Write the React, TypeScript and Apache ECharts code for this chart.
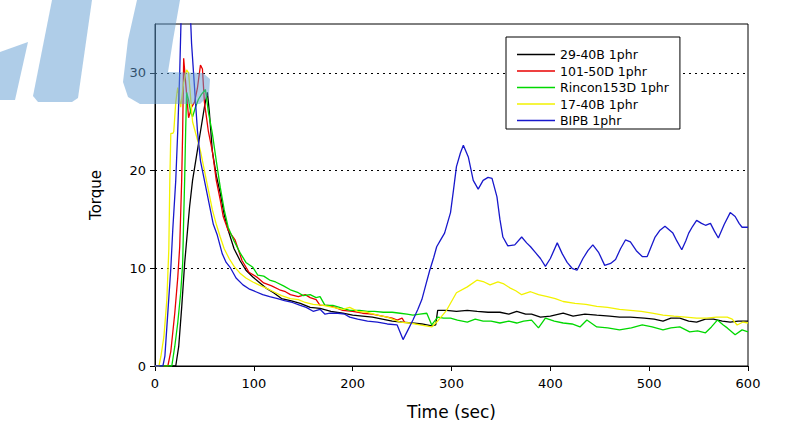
import React, { useEffect, useRef } from "react";
import * as echarts from "echarts";

// Legend / series names
const seriesNames = ["29-40B 1phr", "101-50D 1phr", "Rincon153D 1phr", "17-40B 1phr", "BIPB 1phr"];
const seriesColors = ["#000000", "#e80000", "#00d800", "#f2f200", "#1818cc"];

const yTickValues = [0, 10, 20, 30];

// [time (sec), torque]
const black2940B: [number, number][] = [
  [0, 0], [21, 0], [24, 2], [27, 6], [30, 10.5], [33, 14], [35, 16.3], [38, 19], [42, 21.5], [46, 24], [50, 26.5], [53, 28],
  [55, 26], [58, 22], [62, 19.5], [66, 17.7], [70, 15.5], [74, 13.9], [80, 12], [86, 10.8], [92, 9.8], [99, 9.1], [105, 8.6],
  [112, 8], [120, 7.5], [128, 6.9], [137, 6.7], [147, 6.4], [157, 6.0], [167, 5.9], [178, 5.6], [190, 5.4], [200, 5.2],
  [210, 5.1], [220, 5.0], [230, 4.8], [240, 4.6], [250, 4.5], [260, 4.4], [270, 4.3], [280, 4.1], [284, 4.2], [286, 5.7],
  [295, 5.7], [305, 5.6], [316, 5.7], [326, 5.6], [337, 5.5], [349, 5.5], [358, 5.3], [366, 5.6], [375, 5.3], [381, 5.3],
  [390, 5.0], [400, 5.1], [413, 5.4], [423, 5.1], [435, 5.3], [447, 5.2], [460, 5.1], [470, 5.0], [481, 5.0], [495, 4.9],
  [505, 4.8], [514, 4.6], [522, 4.9], [531, 4.9], [540, 4.6], [548, 4.5], [557, 4.8], [565, 4.8], [574, 4.6], [582, 4.5],
  [590, 4.6], [600, 4.6],
];

const red10150D: [number, number][] = [
  [0, 0], [13, 0], [16, 1.5], [20, 5.4], [23, 9], [25, 12.2], [27, 19], [28, 24], [29, 31.5], [31, 29], [34, 25.4],
  [37, 26.5], [40, 27], [43, 28.5], [46, 30.8], [48, 30.4], [50, 27], [54, 24], [58, 22], [62, 19], [66, 17], [69, 15.3],
  [74, 13.9], [81, 12.9], [88, 10.8], [95, 9.6], [103, 9.1], [110, 8.5], [118, 8.2], [126, 7.8], [132, 7.6], [137, 7.3],
  [145, 7.1], [152, 7.3], [157, 7.0], [163, 6.8], [167, 6.2], [175, 6.2], [182, 6.0], [190, 5.7], [200, 5.6], [210, 5.4],
  [220, 5.3], [230, 5.1], [240, 4.9], [245, 4.7], [250, 4.9], [253, 4.4],
];

const greenRincon153D: [number, number][] = [
  [0, 0], [17, 0], [20, 2], [23, 4.4], [26, 7.5], [28, 10.5], [29, 15], [30, 19], [31, 24], [32, 28], [34, 27.2], [36, 26],
  [38, 25.5], [41, 26.5], [44, 27.3], [47, 27.8], [51, 28.3], [54, 26], [58, 23.8], [62, 21], [66, 18.3], [70, 16], [74, 14.2],
  [80, 12.8], [86, 11.6], [92, 10.6], [99, 10.1], [104, 9.3], [110, 9.2], [116, 8.8], [122, 8.6], [130, 8.2], [137, 7.8],
  [145, 7.5], [150, 7.2], [157, 7.3], [163, 7.0], [167, 7.1], [172, 6.2], [180, 6.2], [190, 5.9], [197, 5.7], [207, 5.7],
  [215, 5.6], [222, 5.6], [231, 5.5], [240, 5.5], [248, 5.4], [255, 5.3], [261, 5.2], [268, 5.3], [275, 5.4], [280, 4.2],
  [286, 5.0], [292, 4.9], [299, 4.9], [306, 4.7], [316, 4.5], [324, 4.8], [332, 4.6], [340, 4.6], [349, 4.4], [358, 4.6],
  [366, 4.4], [373, 4.6], [381, 4.7], [388, 3.9], [395, 4.9], [404, 4.6], [413, 4.4], [422, 4.3], [430, 4.0], [437, 4.7],
  [447, 4.0], [458, 3.9], [470, 3.7], [482, 3.9], [493, 4.2], [503, 4.0], [514, 3.7], [522, 3.9], [531, 4.0], [541, 3.5],
  [549, 3.6], [557, 3.4], [563, 4.0], [569, 4.7], [575, 4.2], [579, 3.9], [587, 3.2], [594, 3.7], [600, 3.5],
];

const yellow1740B: [number, number][] = [
  [0, 0], [4, 0], [6, 1], [9, 3], [12, 6.8], [14, 12], [15, 19], [16, 23.8], [18, 23.8], [19, 24], [21, 27], [23, 28.5],
  [26, 26.5], [29, 29], [32, 30.3], [34, 30], [36, 27.5], [38, 25], [42, 23.5], [46, 22], [50, 20], [54, 18], [58, 16],
  [62, 14.5], [66, 13.2], [70, 12], [75, 11], [80, 10.2], [86, 9.5], [92, 9.0], [99, 8.6], [105, 8.3], [112, 8.0],
  [120, 7.6], [128, 7.2], [137, 6.9], [145, 6.8], [152, 6.5], [160, 6.3], [170, 6.2], [180, 6.0], [190, 5.8], [197, 6.0],
  [205, 5.6], [215, 5.5], [225, 5.2], [235, 5.0], [248, 4.5], [258, 4.4], [268, 4.2], [280, 4.0], [286, 4.6], [295, 5.7],
  [305, 7.5], [316, 8.1], [326, 8.8], [333, 8.6], [339, 8.3], [347, 8.6], [353, 8.4], [359, 8.0], [365, 7.7], [371, 7.3],
  [380, 7.6], [388, 7.3], [397, 7.1], [405, 6.9], [413, 6.6], [425, 6.4], [436, 6.3], [447, 6.1], [458, 6.0], [470, 5.8],
  [481, 5.7], [492, 5.6], [503, 5.4], [514, 5.2], [525, 5.1], [537, 5.0], [548, 4.9], [558, 4.9], [568, 5.0], [579, 5.0],
  [584, 4.8], [589, 4.2], [595, 4.5], [600, 4.4],
];

const blueBIPB: [number, number][] = [
  [0, 0], [8, 0], [10, 1], [12, 4], [14, 7], [16, 10], [18, 14], [21, 19], [23, 24], [25, 30], [27, 38], [35, 38], [37, 33],
  [39, 30], [41, 27], [43, 24], [46, 21], [50, 19], [55, 16.5], [59, 14.5], [63, 13.4], [68, 11.5], [72, 10.6], [76, 10.1],
  [82, 9.0], [89, 8.3], [95, 7.9], [102, 7.6], [109, 7.3], [116, 7.1], [124, 6.9], [131, 6.7], [139, 6.5], [147, 6.2],
  [153, 6.0], [160, 5.6], [167, 5.8], [172, 5.3], [177, 5.4], [185, 5.4], [192, 5.3], [197, 5.0], [205, 4.8], [215, 4.6],
  [225, 4.5], [235, 4.3], [245, 4.2], [251, 2.7], [256, 3.7], [261, 4.7], [266, 5.8], [270, 6.8], [274, 8.3], [278, 9.8],
  [282, 11.1], [285, 12.2], [289, 12.9], [293, 13.6], [299, 15.7], [302, 18], [305, 20.4], [309, 21.8], [312, 22.6],
  [317, 21.4], [322, 19], [327, 18.1], [332, 19], [337, 19.3], [341, 19.2], [346, 17.3], [349, 15], [352, 13.2], [357, 12.3],
  [364, 12.4], [371, 13.2], [376, 12.6], [380, 12.2], [385, 11.6], [390, 11], [395, 10.2], [400, 11], [407, 12.6],
  [412, 11.5], [417, 10.6], [422, 10.0], [427, 9.8], [433, 11], [438, 11.8], [443, 12.4], [449, 11.6], [455, 10.3],
  [461, 10.5], [466, 10.9], [471, 12.0], [476, 12.9], [481, 12.7], [487, 11.8], [493, 11.2], [498, 11.2], [502, 12.2],
  [506, 13.2], [511, 13.9], [516, 14.3], [524, 13.6], [528, 12.8], [533, 11.9], [537, 12.8], [540, 13.6], [544, 14.3],
  [548, 14.9], [553, 14.6], [557, 14.4], [562, 14.6], [566, 13.8], [570, 13.1], [576, 14.5], [582, 15.7], [587, 15.3],
  [591, 14.6], [594, 14.2], [600, 14.2],
];

const seriesData = [black2940B, red10150D, greenRincon153D, yellow1740B, blueBIPB];

const FONT = "DejaVu Sans";
const WM = "rgba(95,155,210,0.5)";

export default function App() {
  const ref = useRef<HTMLDivElement>(null);
  useEffect(() => {
    if (!ref.current) return;
    const chart = echarts.init(ref.current, undefined, { renderer: "svg" });
    chart.setOption({
      animation: false,
      backgroundColor: "#ffffff",
      grid: {
        left: 155,
        top: 24,
        right: 47,
        bottom: 64,
        show: true,
        borderColor: "#000",
        borderWidth: 1,
        backgroundColor: "transparent",
      },
      legend: {
        orient: "vertical",
        left: 506,
        top: 37,
        padding: [11, 11, 2, 11],
        itemGap: 3.5,
        itemWidth: 38,
        itemHeight: 1.6,
        icon: "rect",
        borderColor: "#000",
        borderWidth: 1,
        backgroundColor: "#fff",
        data: seriesNames,
        textStyle: { fontFamily: FONT, fontSize: 12.5, color: "#000" },
        z: 10,
      },
      xAxis: {
        type: "value",
        min: 0,
        max: 600,
        interval: 100,
        name: "Time (sec)",
        nameLocation: "middle",
        nameGap: 37,
        nameTextStyle: { fontFamily: FONT, fontSize: 17, color: "#000" },
        axisLine: { show: true, lineStyle: { color: "#000", width: 1 } },
        axisTick: { show: true, inside: false, length: 5, lineStyle: { color: "#000" } },
        axisLabel: { fontFamily: FONT, fontSize: 13, color: "#000", margin: 11 },
        splitLine: { show: false },
      },
      yAxis: {
        type: "value",
        min: 0,
        max: 35,
        interval: 10,
        name: "Torque",
        nameLocation: "middle",
        nameGap: 52,
        nameTextStyle: { fontFamily: FONT, fontSize: 15, color: "#000" },
        axisLine: { show: true, lineStyle: { color: "#000", width: 1 } },
        axisTick: { show: true, inside: false, length: 5, lineStyle: { color: "#000" }, customValues: yTickValues },
        axisLabel: { fontFamily: FONT, fontSize: 13, color: "#000", margin: 9, customValues: yTickValues },
        splitLine: { show: true, lineStyle: { color: "#000", type: [2, 4], width: 1 } },
      },
      series: seriesData.map((d, i) => ({
        name: seriesNames[i],
        type: "line",
        data: d,
        symbol: "none",
        clip: true,
        color: seriesColors[i],
        lineStyle: { color: seriesColors[i], width: 1.3 },
        z: 2 + i,
      })),
      graphic: [
        {
          type: "polygon",
          z: 100,
          silent: true,
          shape: { points: [[0, 52], [28, 42], [15, 100], [0, 100]] },
          style: { fill: WM },
        },
        {
          type: "polygon",
          z: 100,
          silent: true,
          shape: { points: [[52, 0], [92, 0], [78, 98], [72, 102], [38, 102], [33, 96]] },
          style: { fill: WM },
        },
        {
          type: "polygon",
          z: 100,
          silent: true,
          shape: {
            points: [
              [137, 0], [180, 0], [173, 40], [168, 72], [203, 73], [210, 79], [209, 95], [200, 104],
              [140, 104], [128, 97], [123, 82], [128, 40],
            ],
          },
          style: { fill: WM },
        },
      ],
    });
    return () => chart.dispose();
  }, []);
  return (
    <div
      ref={ref}
      style={{ position: "absolute", left: 0, top: 0, width: 795, height: 430 }}
    />
  );
}
